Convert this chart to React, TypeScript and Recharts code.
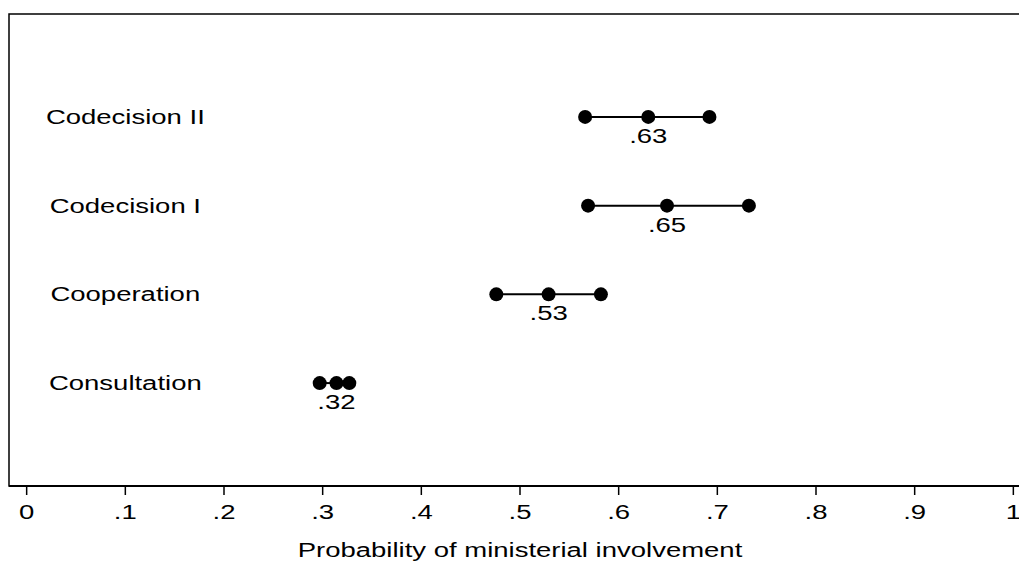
import { ScatterChart, Scatter, XAxis, YAxis, ReferenceArea } from "recharts"

const categories = ["Codecision II", "Codecision I", "Cooperation", "Consultation"]
const rows = [4, 3, 2, 1]
const lower = [0.566, 0.569, 0.476, 0.297]
const point = [0.63, 0.649, 0.529, 0.314]
const upper = [0.692, 0.732, 0.582, 0.327]
const pointLabels = [".63", ".65", ".53", ".32"]

const xTicks = [0, 0.1, 0.2, 0.3, 0.4, 0.5, 0.6, 0.7, 0.8, 0.9, 1]
const xTickLabels = ["0", ".1", ".2", ".3", ".4", ".5", ".6", ".7", ".8", ".9", "1"]

const xDomain = [-0.0179, 1.0179]
const yDomain = [-0.16, 5.16]

const FONT = "'Liberation Sans', Arial, sans-serif"
const STRETCH = 1.375

function Stretched({ x, y, children }: { x: number; y: number; children: React.ReactNode }) {
  return (
    <text
      x={0}
      y={0}
      transform={`translate(${x},${y}) scale(${STRETCH},1)`}
      textAnchor="middle"
      fontFamily={FONT}
      fontSize={20}
      fill="#000"
    >
      {children}
    </text>
  )
}

const Dot = (props: any) => <circle cx={props.cx} cy={props.cy} r={7} fill="#000" />

const CategoryText = (props: any) => (
  <Stretched x={props.cx} y={props.cy + 7}>
    {props.payload.name}
  </Stretched>
)

const PointText = (props: any) => (
  <Stretched x={props.cx} y={props.cy + 26}>
    {props.payload.label}
  </Stretched>
)

const Tick = (props: any) => {
  const i = xTicks.indexOf(props.payload.value)
  return (
    <Stretched x={props.x} y={props.y + 22}>
      {xTickLabels[i]}
    </Stretched>
  )
}

const AxisTitle = (props: any) => {
  const vb = props.viewBox
  return (
    <Stretched x={vb.x + vb.width / 2} y={vb.y + 71}>
      Probability of ministerial involvement
    </Stretched>
  )
}

const categoryData = categories.map((name, i) => ({ x: 0.1, y: rows[i], name }))
const labelData = pointLabels.map((label, i) => ({ x: point[i], y: rows[i], label }))

export default function App() {
  return (
    <div style={{ position: "absolute", left: 0, top: 0, width: 1019, height: 565, overflow: "hidden", background: "#fff" }}>
      <ScatterChart width={1032} height={565} margin={{ top: 14, right: 1, bottom: 0, left: 9 }}>
        <XAxis
          type="number"
          dataKey="x"
          domain={xDomain}
          ticks={xTicks}
          interval={0}
          height={79}
          axisLine={{ stroke: "#000", strokeWidth: 2 }}
          tickLine={{ stroke: "#000", strokeWidth: 1.5 }}
          tickSize={9}
          tickMargin={2}
          tick={<Tick />}
          label={{ content: <AxisTitle /> }}
          allowDataOverflow
        />
        <YAxis type="number" dataKey="y" domain={yDomain} hide allowDataOverflow />
        <ReferenceArea
          x1={xDomain[0]}
          x2={xDomain[1]}
          y1={yDomain[0]}
          y2={yDomain[1]}
          fill="none"
          stroke="#000"
          strokeWidth={1.5}
          ifOverflow="visible"
        />
        {categories.map((name, i) => (
          <Scatter
            key={name}
            data={[
              { x: lower[i], y: rows[i] },
              { x: point[i], y: rows[i] },
              { x: upper[i], y: rows[i] },
            ]}
            line={{ stroke: "#000", strokeWidth: 2 }}
            shape={<Dot />}
            isAnimationActive={false}
          />
        ))}
        <Scatter data={labelData} shape={<PointText />} isAnimationActive={false} />
        <Scatter data={categoryData} shape={<CategoryText />} isAnimationActive={false} />
      </ScatterChart>
    </div>
  )
}
